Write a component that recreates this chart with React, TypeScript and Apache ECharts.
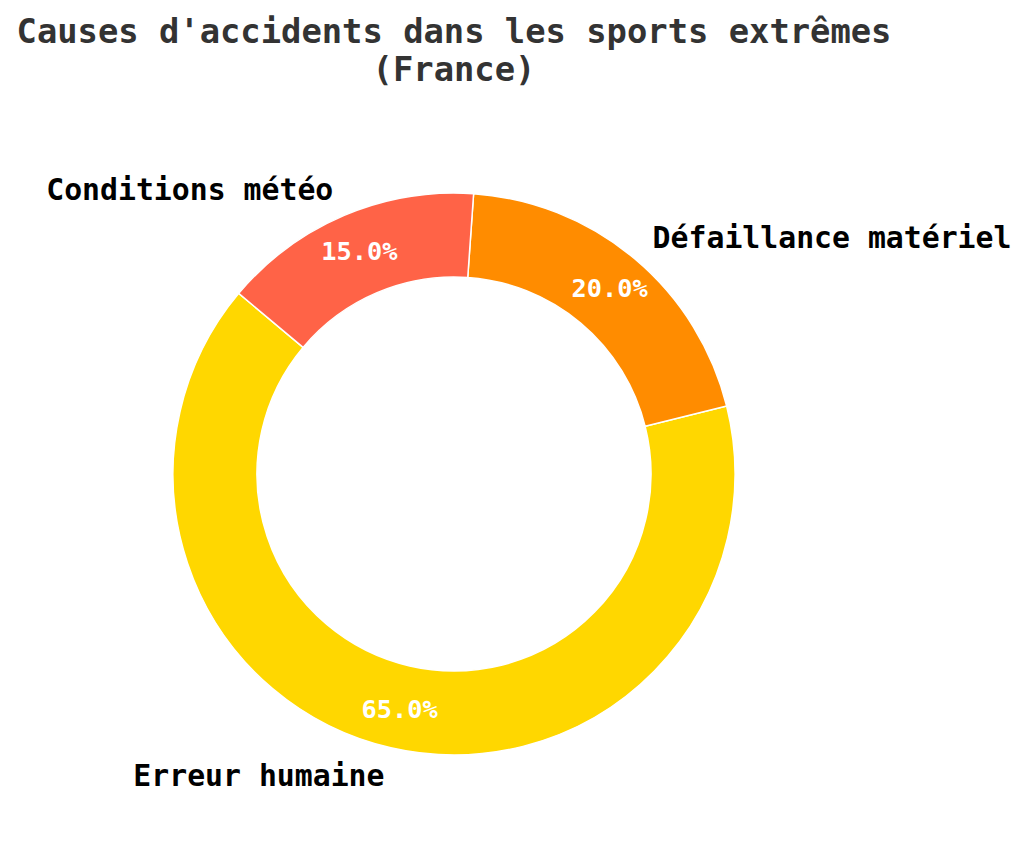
import * as echarts from "echarts";
import { useEffect, useRef } from "react";

const causes = ["Erreur humaine", "Défaillance matériel", "Conditions météo"];
const shares = [65, 20, 15];
const colors = ["#FFD700", "#FF8C00", "#FF6347"];

const FONT = "'DejaVu Sans Mono', monospace";

const App = () => {
  const chartRef = useRef<HTMLDivElement>(null);

  useEffect(() => {
    if (!chartRef.current) return;
    const myChart = echarts.init(chartRef.current, undefined, { renderer: "svg" });

    const data = causes.map((name, i) => ({
      name,
      value: shares[i],
      itemStyle: { color: colors[i] },
    }));

    const option = {
      animation: false,
      backgroundColor: "#ffffff",
      title: {
        text: "Causes d'accidents dans les sports extrêmes\n(France)",
        left: 454,
        top: 12,
        textAlign: "center",
        padding: 0,
        textStyle: {
          fontFamily: FONT,
          fontWeight: "bold",
          fontSize: 33.8,
          lineHeight: 38.5,
          color: "#333333",
        },
      },
      series: [
        {
          type: "pie",
          center: [454, 474],
          radius: [197, 281],
          startAngle: 140,
          clockwise: false,
          avoidLabelOverlap: false,
          itemStyle: { borderColor: "#ffffff", borderWidth: 1.5 },
          label: {
            show: true,
            position: "inner",
            formatter: (p: any) => p.percent.toFixed(1) + "%",
            fontFamily: FONT,
            fontWeight: "bold",
            fontSize: 25.3,
            color: "#ffffff",
          },
          labelLine: { show: false },
          emphasis: { disabled: true },
          data,
        },
        {
          type: "pie",
          center: [454, 474],
          radius: [197, 281],
          startAngle: 140,
          clockwise: false,
          avoidLabelOverlap: false,
          silent: true,
          z: 1,
          itemStyle: { color: "transparent", borderWidth: 0 },
          label: {
            show: true,
            position: "outside",
            formatter: "{b}",
            distanceToLabelLine: 0,
            fontFamily: FONT,
            fontWeight: "bold",
            fontSize: 29.8,
            color: "#000000",
          },
          labelLine: { show: false, length: 28, length2: 0 },
          emphasis: { disabled: true },
          data: causes.map((name, i) => ({ name, value: shares[i] })),
        },
      ],
    };

    myChart.setOption(option);

    return () => {
      myChart.dispose();
    };
  }, []);

  return (
    <div
      ref={chartRef}
      style={{ position: "fixed", left: 0, top: 0, width: "1024px", height: "843px" }}
    />
  );
};

export default App;
